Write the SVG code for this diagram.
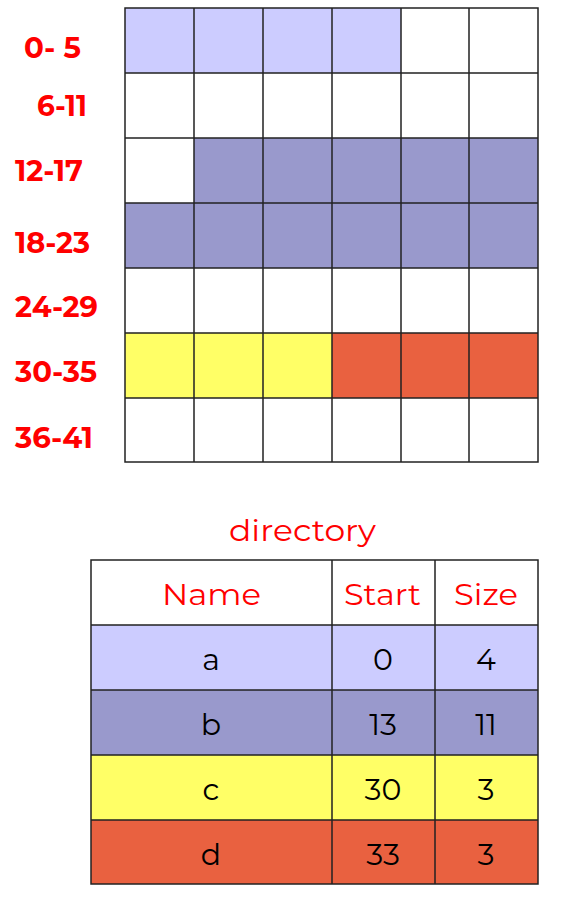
<svg xmlns="http://www.w3.org/2000/svg" width="572" height="898" viewBox="0 0 572 898">
<style>
.lbl{font-family:"Montserrat","Open Sans","Liberation Sans",sans-serif;font-weight:bold;font-size:29px;fill:#ff0000}
.hd{font-family:"Montserrat","Open Sans","Liberation Sans",sans-serif;font-size:30px;fill:#ff0000;text-anchor:middle}
.dt{font-family:"Montserrat","Open Sans","Liberation Sans",sans-serif;font-size:30px;fill:#000;text-anchor:middle}
.c{stroke:#222;stroke-width:1.5}
.w{fill:#fff}.l{fill:#ccccff}.m{fill:#9999cc}.y{fill:#ffff66}.r{fill:#e96140}
</style>
<g id="blocks">
<rect class="l" x="125" y="8" width="276" height="65"/>
<rect class="m" x="194" y="138" width="344" height="65"/>
<rect class="m" x="125" y="203" width="413" height="65"/>
<rect class="y" x="125" y="333" width="207" height="65"/>
<rect class="r" x="332" y="333" width="206" height="65"/>
<g class="c" fill="none">
<rect x="125" y="8" width="413" height="454"/>
<path d="M194 8V462M263 8V462M332 8V462M401 8V462M469 8V462M125 73H538M125 138H538M125 203H538M125 268H538M125 333H538M125 398H538"/>
</g>
</g>
<g id="labels">
<text class="lbl" x="24" y="58" textLength="57" lengthAdjust="spacingAndGlyphs">0- 5</text>
<text class="lbl" x="37" y="116" textLength="50" lengthAdjust="spacingAndGlyphs">6-11</text>
<text class="lbl" x="15" y="181" textLength="68" lengthAdjust="spacingAndGlyphs">12-17</text>
<text class="lbl" x="15" y="253" textLength="75" lengthAdjust="spacingAndGlyphs">18-23</text>
<text class="lbl" x="15" y="317" textLength="83" lengthAdjust="spacingAndGlyphs">24-29</text>
<text class="lbl" x="15" y="382" textLength="82" lengthAdjust="spacingAndGlyphs">30-35</text>
<text class="lbl" x="15" y="448" textLength="78" lengthAdjust="spacingAndGlyphs">36-41</text>
</g>
<g id="directory">
<text class="hd" x="302.5" y="541" textLength="147" lengthAdjust="spacingAndGlyphs">directory</text>
<rect class="w" x="91" y="560" width="447" height="65"/>
<rect class="l" x="91" y="625" width="447" height="65"/>
<rect class="m" x="91" y="690" width="447" height="65"/>
<rect class="y" x="91" y="755" width="447" height="65"/>
<rect class="r" x="91" y="820" width="447" height="64"/>
<g class="c" fill="none">
<rect x="91" y="560" width="447" height="324"/>
<path d="M332 560V884M435 560V884M91 625H538M91 690H538M91 755H538M91 820H538"/>
</g>
<text class="hd" x="211.5" y="605" textLength="99" lengthAdjust="spacingAndGlyphs">Name</text>
<text class="hd" x="382.5" y="605" textLength="77" lengthAdjust="spacingAndGlyphs">Start</text>
<text class="hd" x="486" y="605" textLength="64" lengthAdjust="spacingAndGlyphs">Size</text>
<text class="dt" x="211" y="670">a</text><text class="dt" x="383" y="670">0</text><text class="dt" x="486" y="670">4</text>
<text class="dt" x="211" y="735">b</text><text class="dt" x="383" y="735">13</text><text class="dt" x="486" y="735">11</text>
<text class="dt" x="211" y="800">c</text><text class="dt" x="383" y="800">30</text><text class="dt" x="486" y="800">3</text>
<text class="dt" x="211" y="865">d</text><text class="dt" x="383" y="865">33</text><text class="dt" x="486" y="865">3</text>
</g>
</svg>
